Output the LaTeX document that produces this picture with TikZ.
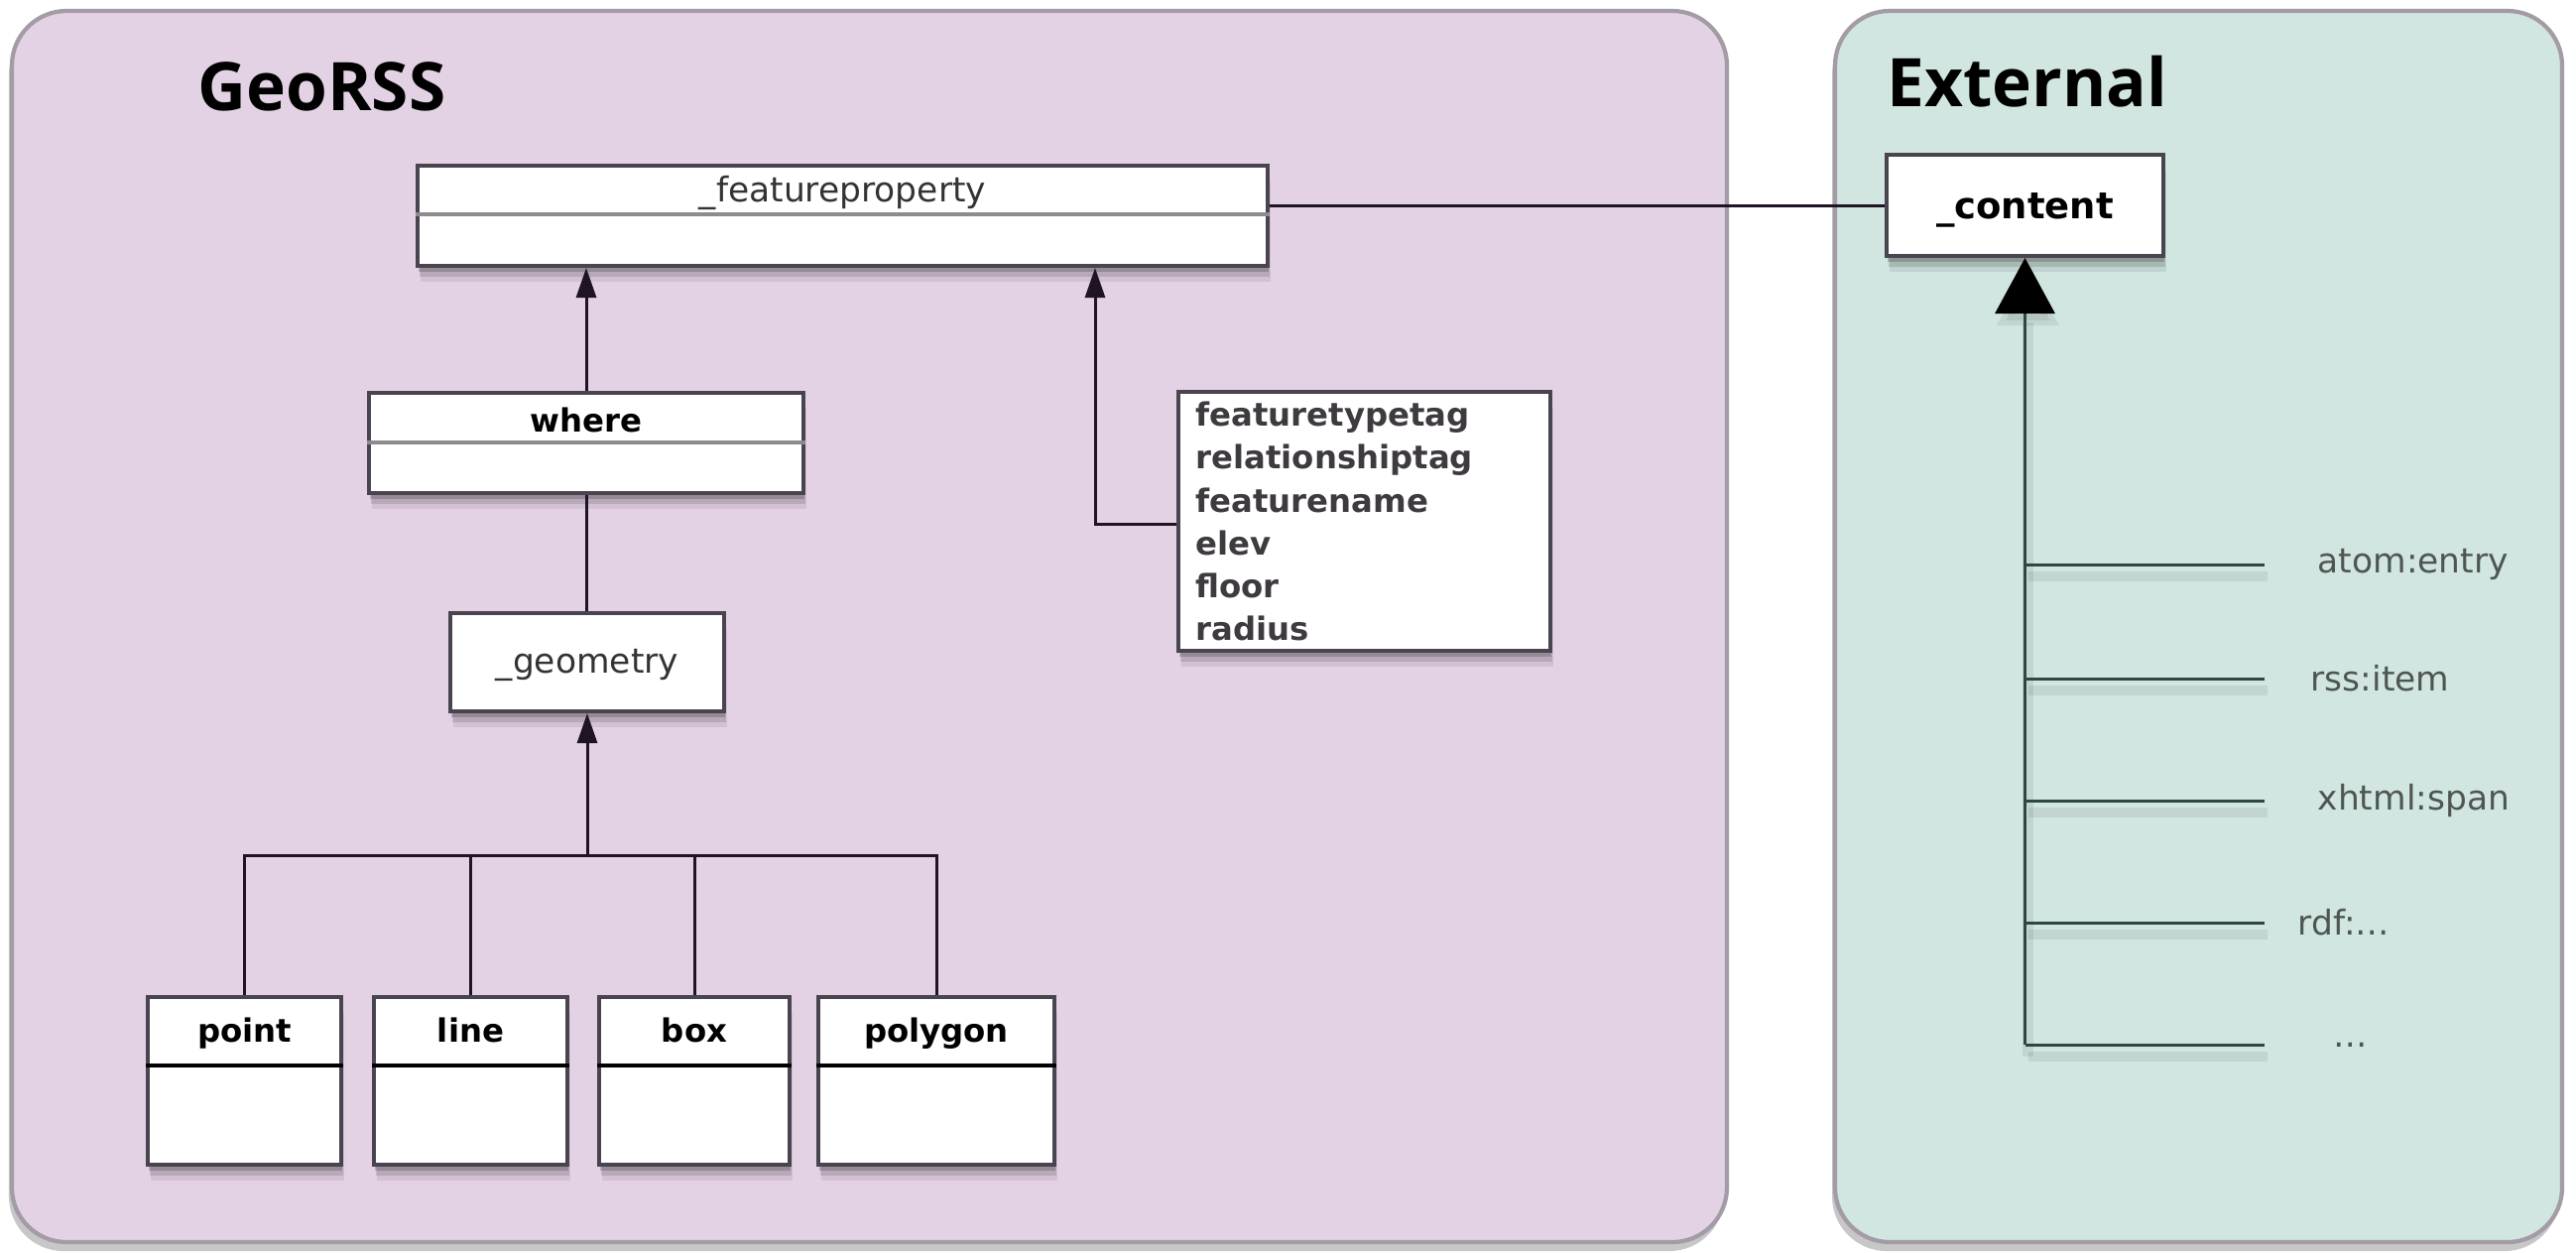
\documentclass[tikz,border=0pt]{standalone}
\usepackage{fontspec}
\setmainfont{DejaVu Sans}
\newfontfamily\headfont{Open Sans}
\usetikzlibrary{arrows.meta,shadows}

\definecolor{geofill}{HTML}{E3D2E4}
\definecolor{extfill}{HTML}{D1E6E0}
\definecolor{panelline}{HTML}{A39BA5}
\definecolor{boxline}{HTML}{4A4450}
\definecolor{divline}{HTML}{8E8A90}
\definecolor{geoline}{HTML}{1E1424}
\definecolor{extline}{HTML}{2F4743}
\definecolor{labelgray}{HTML}{4E5553}
\definecolor{attrgray}{HTML}{3E3A40}

\begin{document}
\begin{tikzpicture}[x=0.01cm,y=-0.01cm,
  softshadow/.style={
    drop shadow={shadow xshift=0.3mm,shadow yshift=-1.6mm,opacity=0.08,fill=black},
    drop shadow={shadow xshift=0.2mm,shadow yshift=-1.1mm,opacity=0.12,fill=black},
    drop shadow={shadow xshift=0.1mm,shadow yshift=-0.6mm,opacity=0.18,fill=black}},
  panelshadow/.style={
    general shadow={shadow xshift=-0.3mm,shadow yshift=-0.9mm,opacity=0.22,fill=black}},
  panel/.style={draw=panelline,line width=1.2pt,rounded corners=5.5mm,panelshadow},
  umlbox/.style={draw=boxline,line width=1.1pt,fill=white,inner sep=0pt,softshadow},
  title/.style={font=\headfont\bfseries\fontsize{19.2}{22}\selectfont,anchor=base west,inner sep=0pt},
  boldtext/.style={font=\bfseries\fontsize{9.2}{11}\selectfont,inner sep=0pt,anchor=base},
  plaintext/.style={font=\fontsize{9.8}{12}\selectfont,text=black!80,inner sep=0pt,anchor=base},
  divider/.style={draw=divline,line width=1.3pt},
  darkdivider/.style={draw=black,line width=1.3pt},
  geoarrow/.style={draw=geoline,line width=0.85pt,-{Triangle[width=2mm,length=3mm]}},
  geoconn/.style={draw=geoline,line width=0.85pt},
  extconn/.style={draw=extline,line width=0.85pt,
    preaction={draw=black,opacity=0.07,line width=3pt,transform canvas={shift={(0.3mm,-1.2mm)}}}},
  extarrow/.style={extconn,-{Triangle[width=6mm,length=5.6mm,color=black]}},
  extlabel/.style={font=\fontsize{9.8}{12}\selectfont,text=labelgray,anchor=west,inner sep=0pt}
]
\useasboundingbox (0,0) rectangle (2597,1262);
\fill[white] (0,0) rectangle (2597,1262);

% the two package areas
\path[panel,fill=geofill] (12,11) rectangle (1741,1252);
\path[panel,fill=extfill] (1850,11) rectangle (2583,1252);
\node[title] (georsstitle) at (199,111) {GeoRSS};
\node[title] (exttitle) at (1902,107) {External};

% GeoRSS classes
\node[umlbox,minimum width=8.57cm,minimum height=1.01cm] (fp) at (849.5,217.5) {};
\node[plaintext] (fp-t) at (849.5,203) {\_featureproperty};
\draw[divider] (fp.west |- 0,216) -- (fp.east |- 0,216);

\node[umlbox,minimum width=4.37cm,minimum height=1.01cm] (where) at (591,446.5) {};
\node[boldtext] (where-t) at (591,435) {where};
\draw[divider] (where.west |- 0,446) -- (where.east |- 0,446);

\node[umlbox,minimum width=2.76cm,minimum height=0.99cm] (geom) at (592,667.5) {};
\node[plaintext] (geom-t) at (592,678) {\_geometry};

\node[umlbox,minimum width=1.95cm,minimum height=1.69cm] (point) at (246.5,1089.5) {};
\node[umlbox,minimum width=1.95cm,minimum height=1.69cm] (line) at (474.5,1089.5) {};
\node[umlbox,minimum width=1.92cm,minimum height=1.69cm] (box) at (700,1089.5) {};
\node[umlbox,minimum width=2.38cm,minimum height=1.69cm] (polygon) at (944,1089.5) {};
\foreach \n in {point,line,box,polygon}{
  \node[boldtext] (\n-t) at (\n.center |- 0,1050) {\n};
  \draw[darkdivider] (\n.west |- 0,1074) -- (\n.east |- 0,1074);
}

\node[umlbox,text width=3.75cm-10pt,minimum height=2.61cm,inner xsep=5pt,align=left,
      font=\bfseries\fontsize{9.2}{12.25}\selectfont,text=attrgray] (attrs) at (1375.5,525.5)
  {featuretypetag\\relationshiptag\\featurename\\elev\\floor\\radius};

% External class
\node[umlbox,minimum width=2.79cm,minimum height=1.02cm] (content) at (2041.5,207) {};
\node[boldtext,font=\bfseries\fontsize{10.5}{12}\selectfont] (content-t) at (2041.5,220) {\_content};

% GeoRSS connectors
\draw[geoarrow] (where.north) -- (where.north |- fp.south);
\coordinate (fpjoin) at (1104,528);
\draw[geoarrow] (attrs.west |- fpjoin) -- (fpjoin) -- (fpjoin |- fp.south);
\draw[geoconn] (where.south) -- (where.south |- geom.north);
\coordinate (gbar) at (592,862);
\draw[geoarrow] (gbar) -- (gbar |- geom.south);
\draw[geoconn] (point.north) -- (point.north |- gbar) -- (polygon.north |- gbar) -- (polygon.north);
\draw[geoconn] (line.north) -- (line.north |- gbar);
\draw[geoconn] (box.north) -- (box.north |- gbar);
\draw[geoconn] (content.west) -- (content.west -| fp.east);

% External connectors
\coordinate (ebot) at (2041.5,1053);
\draw[extarrow] (ebot) -- (content.south);
\foreach \y/\name/\lx/\txt in {569/atom/2336/atom:entry, 684/rss/2329/rss:item,
    807/xhtml/2336/xhtml:span, 930/rdf/2316/rdf:\dots, 1053/more/2352/\dots}{
  \coordinate (\name-a) at (2041.5,\y);
  \coordinate (\name-b) at (2283,\y);
  \draw[extconn] (\name-a) -- (\name-b);
  \node[extlabel] (\name-t) at (\lx,\y) {\txt};
}
\end{tikzpicture}
\end{document}
